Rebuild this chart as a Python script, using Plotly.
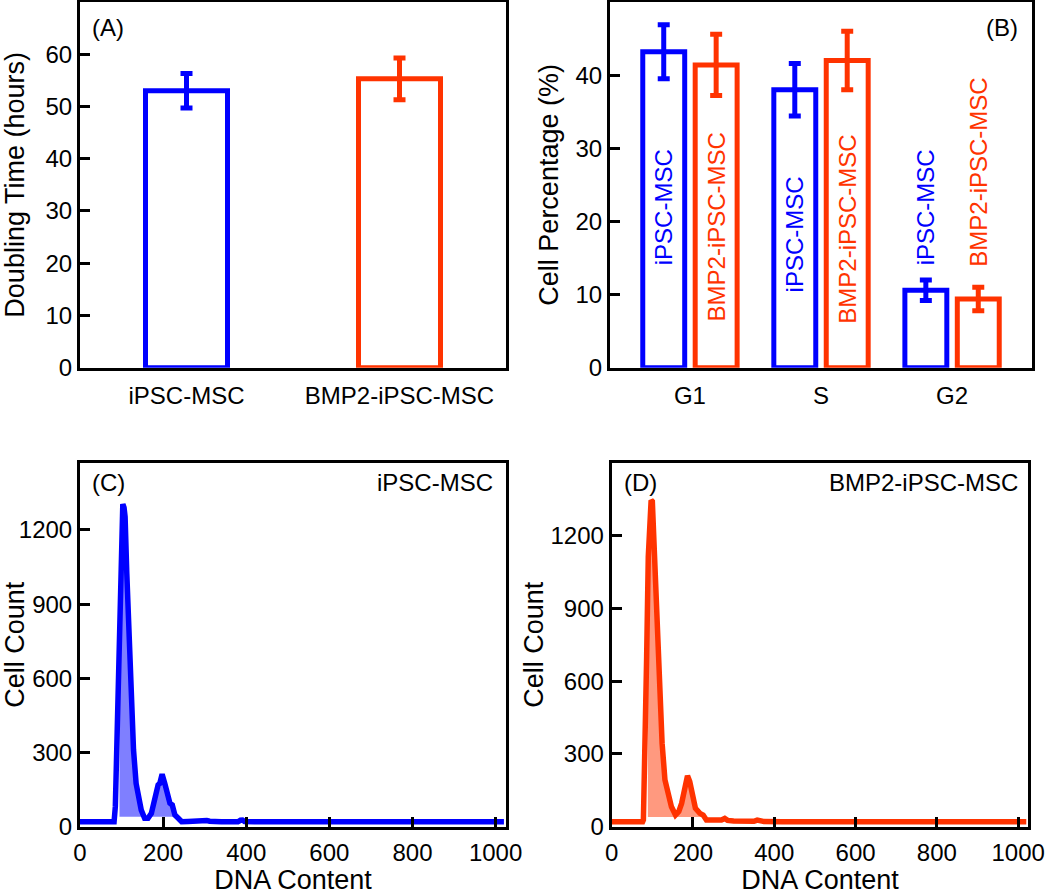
import numpy as np
import plotly.graph_objects as go

# (A) doubling time
cell_lines = ["iPSC-MSC", "BMP2-iPSC-MSC"]
doubling_time = [53.0, 55.3]
doubling_err = [3.3, 4.0]

# (B) cell cycle phases
phases = ["G1", "S", "G2"]
pct_ipsc = [43.2, 38.0, 10.6]
pct_ipsc_err = [3.7, 3.6, 1.4]
pct_bmp2 = [41.4, 42.0, 9.4]
pct_bmp2_err = [4.2, 4.0, 1.6]
label_y_ipsc = [21.9, 18.2, 21.9]
label_y_bmp2 = [19.2, 18.9, 26.7]

# (C) DNA histogram iPSC-MSC
dna_c = [0, 82, 85, 88, 93, 96.5, 99.6, 103, 106, 108.5, 112.6, 116.6, 120.7, 124.8,
         128.8, 135, 141.7, 147.4, 155.5, 163.6, 171.7, 179.8, 187.9, 192, 197.6, 204,
         209.8, 216.3, 222, 228.4, 236.5, 244.6, 260, 280, 290, 297, 305, 312, 318,
         325, 340, 380, 386, 391, 396, 420, 600, 800, 1020]
count_c = [20, 20, 81, 283, 688, 1026, 1254, 1305, 1290, 1254, 1025, 823, 620, 445,
           310, 175, 121, 67, 34, 34, 54, 115, 169, 175, 212, 175,
           135, 95, 88, 47, 34, 20, 21, 22, 27, 26, 25, 22, 24,
           21, 20, 20, 26, 27, 21, 20, 20, 20, 20]
gate_c = [95, 237, 40]

# (D) DNA histogram BMP2-iPSC-MSC
dna_d = [0, 76, 78, 82, 86, 90, 94, 97, 100, 104, 108, 113, 118.5, 124, 131, 139,
         147, 157, 165, 172, 180, 186.5, 192, 198, 206, 217, 225, 233, 254, 270, 278,
         285, 300, 320, 350, 358, 365, 375, 420, 600, 800, 1020]
count_d = [20, 20, 28, 289, 701, 1113, 1334, 1345, 1340, 1182, 976, 770, 495, 344, 193, 138,
           82, 48, 62, 96, 151, 210, 186, 124, 76, 55, 48, 28, 25, 28, 34,
           26, 24, 22, 22, 27, 25, 21, 20, 20, 20, 20]
gate_d = [89, 228, 40]

BLUE = "#0000ff"
RED = "#ff3300"
FONT = "Arial, Liberation Sans, sans-serif"
W, H = 1050, 895


def px_x(p):
    return p / W


def px_y(p):
    return 1 - p / H


def gate_poly(xs, ys, gate):
    lo, hi, base = gate
    xs = np.asarray(xs, float)
    ys = np.asarray(ys, float)
    m = (xs > lo) & (xs < hi)
    px = [lo] + list(xs[m]) + [hi, hi, lo]
    py = [np.interp(lo, xs, ys)] + list(ys[m]) + [np.interp(hi, xs, ys), base, base]
    return px, py


fig = go.Figure()

# panel A
for i, (name, col) in enumerate(zip(cell_lines, [BLUE, RED])):
    fig.add_trace(go.Bar(
        x=[i], y=[doubling_time[i]], width=0.385,
        marker=dict(color="rgba(0,0,0,0)", line=dict(color=col, width=5)),
        error_y=dict(type="data", array=[doubling_err[i]], color=col, thickness=5, width=6),
        xaxis="x", yaxis="y", showlegend=False,
    ))

# panel B
xb = np.arange(len(phases))
fig.add_trace(go.Bar(
    x=xb, y=pct_ipsc, width=0.32, offset=-0.36,
    marker=dict(color="rgba(0,0,0,0)", line=dict(color=BLUE, width=5)),
    error_y=dict(type="data", array=pct_ipsc_err, color=BLUE, thickness=5, width=6),
    xaxis="x2", yaxis="y2", showlegend=False,
))
fig.add_trace(go.Bar(
    x=xb, y=pct_bmp2, width=0.32, offset=0.04,
    marker=dict(color="rgba(0,0,0,0)", line=dict(color=RED, width=5)),
    error_y=dict(type="data", array=pct_bmp2_err, color=RED, thickness=5, width=6),
    xaxis="x2", yaxis="y2", showlegend=False,
))

# panels C and D
for xs, ys, gate, col, fillcol, ax in [
    (dna_c, count_c, gate_c, BLUE, "rgba(0,0,255,0.5)", "3"),
    (dna_d, count_d, gate_d, RED, "rgba(255,51,0,0.5)", "4"),
]:
    gx, gy = gate_poly(xs, ys, gate)
    fig.add_trace(go.Scatter(
        x=gx, y=gy, mode="none", fill="toself", fillcolor=fillcol,
        xaxis="x" + ax, yaxis="y" + ax, showlegend=False,
    ))
    fig.add_trace(go.Scatter(
        x=xs, y=ys, mode="lines", line=dict(color=col, width=5.5),
        xaxis="x" + ax, yaxis="y" + ax, showlegend=False,
    ))

frame = dict(showline=True, mirror=True, linecolor="black", linewidth=3,
             showgrid=False, zeroline=False, automargin=False,
             tickfont=dict(size=24, color="black"))
yt = dict(ticks="inside", ticklen=10, tickwidth=3, tickcolor="black")
ttl = dict(size=27, color="black")

top_y = [px_y(367.7), px_y(2)]
bot_y = [px_y(826.7), px_y(462.7)]

fig.update_layout(
    width=W, height=H,
    margin=dict(l=0, r=0, t=0, b=0),
    paper_bgcolor="white", plot_bgcolor="white",
    font=dict(family=FONT, color="black"),
    barmode="overlay",
    xaxis=dict(frame, domain=[px_x(80), px_x(506)], anchor="y", range=[-0.5, 1.5],
               tickvals=[0, 1], ticktext=cell_lines, ticks="", ticklabelstandoff=4),
    yaxis=dict(frame, **yt, domain=top_y, anchor="x", range=[0, 70],
               tickvals=list(range(0, 61, 10)),
               title=dict(text="Doubling Time (hours)", font=ttl, standoff=20)),
    xaxis2=dict(frame, domain=[px_x(610), px_x(1032)], anchor="y2", range=[-0.61, 2.61],
                tickvals=list(xb), ticktext=phases, ticks="", ticklabelstandoff=4),
    yaxis2=dict(frame, **yt, domain=top_y, anchor="x2", range=[0, 50],
                tickvals=list(range(0, 41, 10)),
                title=dict(text="Cell Percentage (%)", font=ttl, standoff=10)),
    xaxis3=dict(frame, **yt, domain=[px_x(80), px_x(506)], anchor="y3", range=[0, 1025],
                dtick=200, ticklabelstandoff=2,
                title=dict(text="DNA Content", font=ttl, standoff=24)),
    yaxis3=dict(frame, **yt, domain=bot_y, anchor="x3", range=[0, 1472],
                tickvals=list(range(0, 1201, 300)), tickformat="d",
                title=dict(text="Cell Count", font=ttl, standoff=0)),
    xaxis4=dict(frame, **yt, domain=[px_x(611.7), px_x(1028.3)], anchor="y4", range=[0, 1025],
                dtick=200, ticklabelstandoff=2,
                title=dict(text="DNA Content", font=ttl, standoff=24)),
    yaxis4=dict(frame, **yt, domain=bot_y, anchor="x4", range=[0, 1500],
                tickvals=list(range(0, 1201, 300)), tickformat="d",
                title=dict(text="Cell Count", font=ttl, standoff=0)),
)

ann = []
for xv, yv, col, txt in (
    [(x - 0.2, y, BLUE, "iPSC-MSC") for x, y in zip(xb, label_y_ipsc)]
    + [(x + 0.2, y, RED, "BMP2-iPSC-MSC") for x, y in zip(xb, label_y_bmp2)]
):
    ann.append(dict(x=xv, y=yv, xref="x2", yref="y2", text=txt, textangle=-90,
                    showarrow=False, font=dict(size=24, color=col)))

for txt, x, y, xa in [
    ("(A)", 90, 27.8, "left"), ("(B)", 1020, 27.8, "right"),
    ("(C)", 90, 482.5, "left"), ("iPSC-MSC", 495, 482.5, "right"),
    ("(D)", 622, 482.5, "left"), ("BMP2-iPSC-MSC", 1020, 482.5, "right"),
]:
    ann.append(dict(x=px_x(x), y=px_y(y), xref="paper", yref="paper", text=txt,
                    xanchor=xa, yanchor="middle", showarrow=False,
                    font=dict(size=24, color="black")))

fig.update_layout(annotations=ann)
# page body has a default 8px margin; drop it so the figure sits at the corner
fig.write_html("out.html", config={"displayModeBar": False},
               post_script="document.body.style.margin='0px';")
